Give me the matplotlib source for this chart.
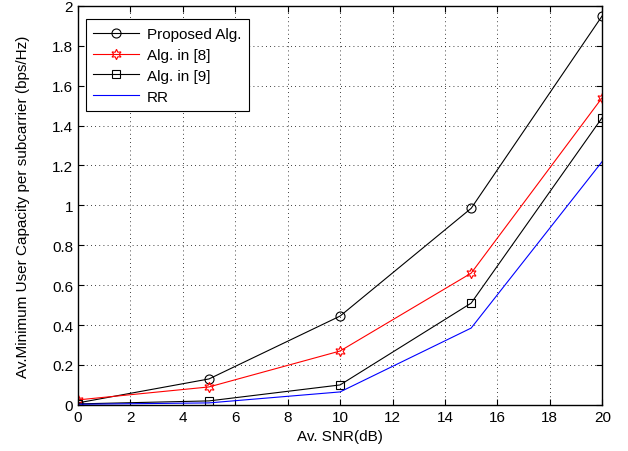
import matplotlib
matplotlib.use("Agg")
import matplotlib.pyplot as plt

snr = [0, 5, 10, 15, 20]
proposed = [0.01, 0.13, 0.445, 0.985, 1.95]
alg8 = [0.025, 0.09, 0.27, 0.66, 1.54]
alg9 = [0.005, 0.02, 0.10, 0.51, 1.44]
rr = [0.003, 0.01, 0.065, 0.385, 1.22]

plt.rcParams['font.family'] = ['Liberation Sans', 'DejaVu Sans']
fig = plt.figure(figsize=(6.28, 4.52), dpi=100)
ax = fig.add_axes([0.124, 0.102, 0.835, 0.883])

ax.plot(snr, proposed, color='black', lw=0.8, marker='o', ms=6.5, mfc='none', mec='black', mew=0.8, label='Proposed Alg.')
ax.plot(snr, alg8, color='red', lw=0.8, marker=(6, 1, 0), ms=7.5, mfc='none', mec='red', mew=0.8, label='Alg. in [8]')
ax.plot(snr, alg9, color='black', lw=0.8, marker='s', ms=5.5, mfc='none', mec='black', mew=0.8, label='Alg. in [9]')
ax.plot(snr, rr, color='blue', lw=0.8, label='RR')

ax.set_xlim(0, 20)
ax.set_ylim(0, 2)
ax.set_xticks(range(0, 21, 2))
ax.set_yticks([0, 0.2, 0.4, 0.6, 0.8, 1, 1.2, 1.4, 1.6, 1.8, 2])
ax.set_yticklabels(['0', '0.2', '0.4', '0.6', '0.8', '1', '1.2', '1.4', '1.6', '1.8', '2'])
ax.tick_params(direction='in', top=True, right=True, labelsize=11, length=4, width=0.8)
ax.grid(True, linestyle=(0, (1, 4)), color='black', lw=0.6)
for s in ax.spines.values():
    s.set_linewidth(1.0)
ax.set_xlabel('Av. SNR(dB)', fontsize=11, labelpad=4)
ax.set_ylabel('Av.Minimum User Capacity per subcarrier (bps/Hz)', fontsize=11, labelpad=16)

leg = ax.legend(loc='upper left', fontsize=11, fancybox=False, framealpha=1, edgecolor='black',
                handlelength=3.0, handletextpad=0.5, borderpad=0.5, labelspacing=0.45,
                bbox_to_anchor=(0.0, 0.985))
leg.get_frame().set_linewidth(0.8)

fig.savefig('out.png', dpi=100)
